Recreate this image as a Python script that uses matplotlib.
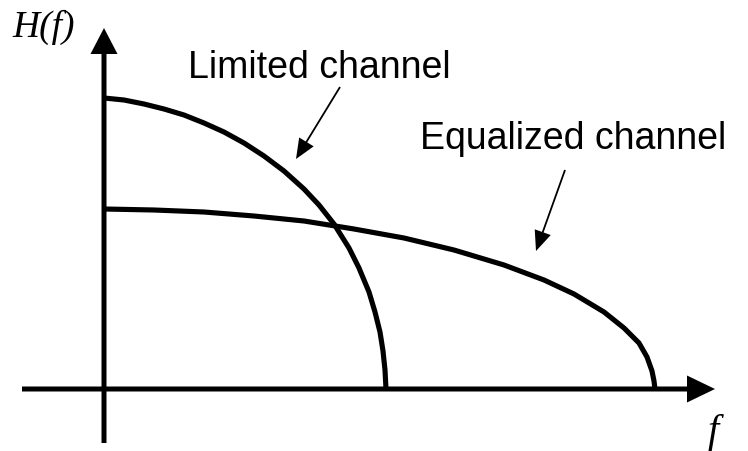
import matplotlib
matplotlib.use("Agg")
import matplotlib.pyplot as plt

# curves (origin at the axes crossing, units ~ pixels)
limited_f = [0, 20, 40, 60, 80, 100, 120, 140, 160, 180, 200, 215, 230, 245, 255, 265, 271, 276, 279, 281, 282]
limited_H = [291, 289, 285, 280, 274, 266, 257, 246, 233, 218, 200, 184, 165, 141, 121, 97, 77, 57, 38, 19, 0]

equal_f = [0, 50, 100, 150, 200, 250, 300, 350, 400, 440, 470, 500, 520, 535, 543, 548, 550, 551]
equal_H = [180, 179, 177, 173, 168, 160, 151, 139, 124, 109, 95, 77, 61, 46, 32, 18, 8, 0]

labels = ["Limited channel", "Equalized channel"]
# pointer arrows: (tail, tip)
pointers = [((236, 302), (192, 230)), ((461, 219), (432, 138))]
label_pos = [(84, 311), (316, 240)]

fig = plt.figure(figsize=(7.48, 4.51), dpi=100)
ax = fig.add_axes([0, 0, 1, 1])
ax.set_xlim(-104, 644)
ax.set_ylim(-62, 389)
ax.axis("off")

# axes with arrow heads
ax.arrow(0, -54, 0, 415, width=5, head_width=27, head_length=26,
         length_includes_head=True, color="black", lw=0)
ax.arrow(-82, 0, 693, 0, width=5, head_width=27, head_length=28,
         length_includes_head=True, color="black", lw=0)

ax.plot(limited_f, limited_H, color="black", lw=3.7, solid_capstyle="butt", solid_joinstyle="round")
ax.plot(equal_f, equal_H, color="black", lw=3.7, solid_capstyle="butt", solid_joinstyle="round")

for lab, (tx, ty), ((x0, y0), (x1, y1)) in zip(labels, label_pos, pointers):
    ax.text(tx, ty, lab, fontsize=27, family="Liberation Sans", va="baseline", ha="left")
    ax.arrow(x0, y0, x1 - x0, y1 - y0, width=1.8, head_width=17, head_length=20,
             length_includes_head=True, color="black", lw=0)

ax.text(-92, 352, "H(f)", fontsize=27, family="Liberation Serif", style="italic",
        va="baseline", ha="left")
ax.text(609, -53, "f", fontsize=29, family="Liberation Serif", style="italic",
        va="baseline", ha="center")

fig.savefig("out.png", dpi=100)
